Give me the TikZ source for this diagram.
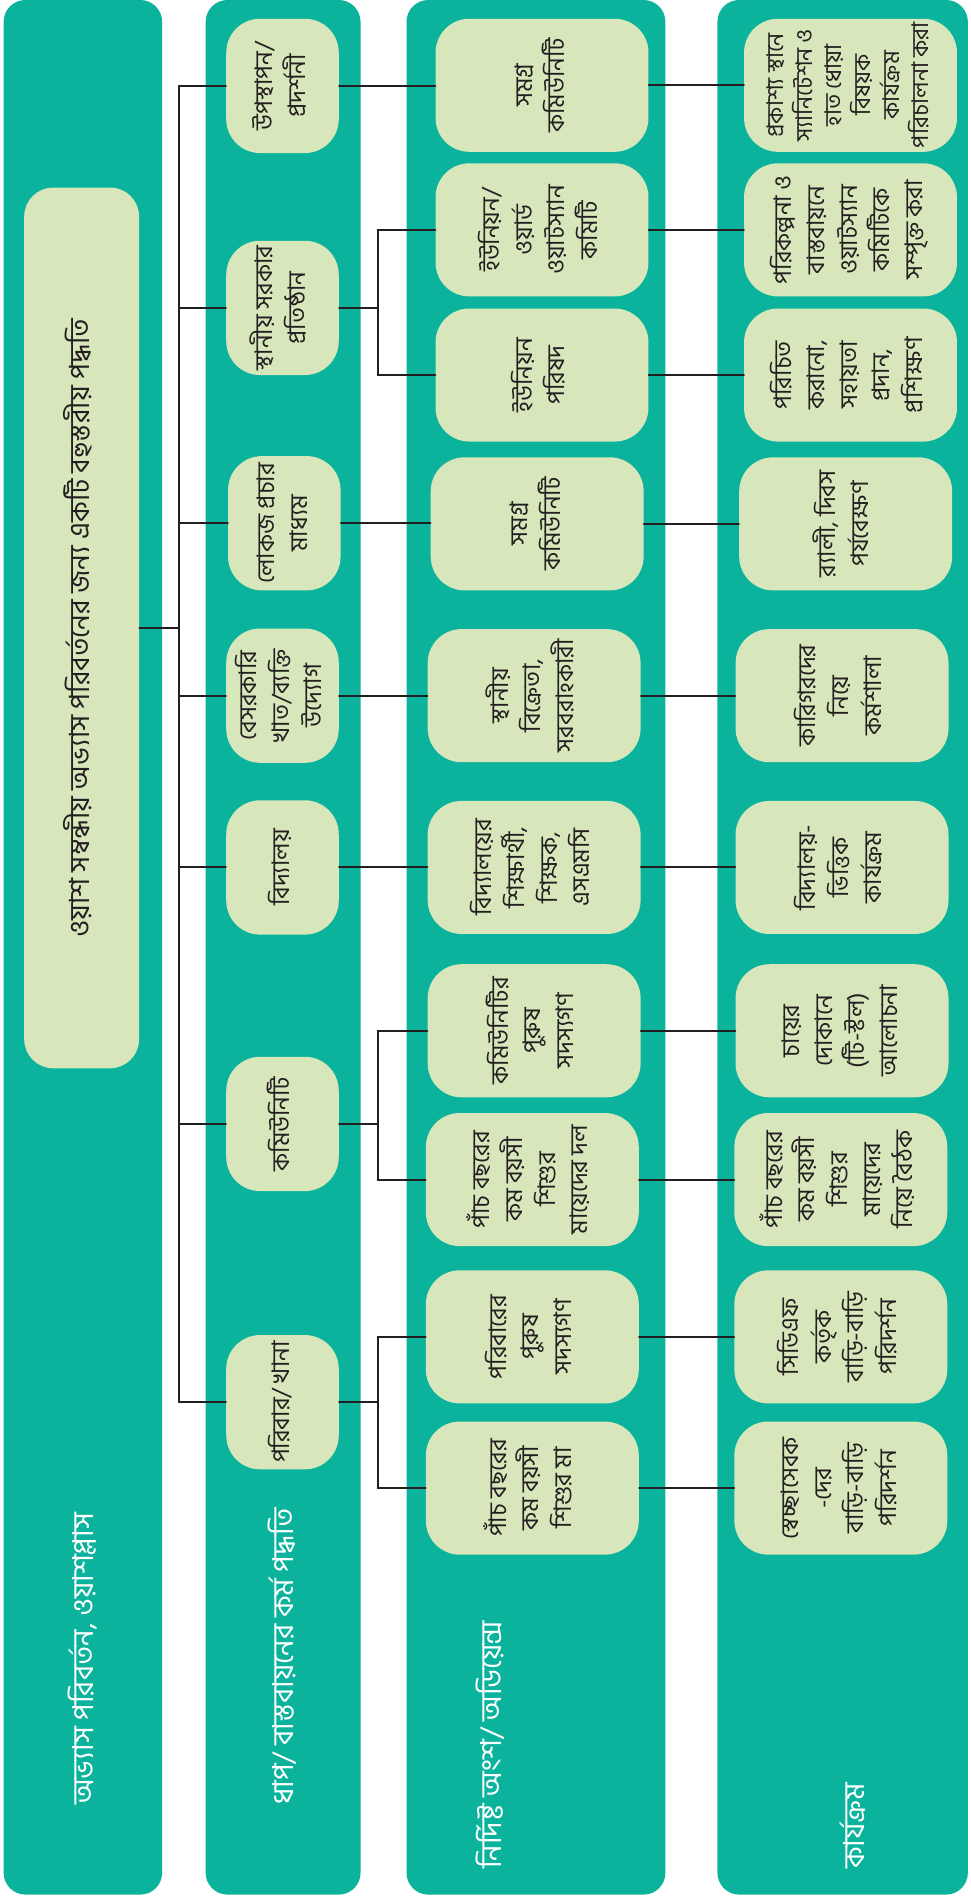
\documentclass[tikz,border=0pt]{standalone}
\usepackage{fontspec}
\usepackage{graphicx}
\newfontfamily\bn[Script=Bengali]{Hind Siliguri}
\definecolor{panelc}{HTML}{0BB39C}
\definecolor{boxc}{HTML}{D7E7BB}
\definecolor{inkc}{HTML}{231F20}
\newcommand\vtxt[1]{\rotatebox{90}{\begin{tabular}{@{}c@{}}#1\end{tabular}}}
\begin{document}
\begin{tikzpicture}[x=1pt,y=-1pt,line join=round,line cap=round,
	panel/.style={fill=panelc,rounded corners=18pt},
	cellbox/.style={fill=boxc,rounded corners=28pt,inner sep=0pt,text=inkc,font=\bn\fontsize{20}{27}\selectfont},
	stepbox/.style={cellbox,minimum width=93pt,minimum height=111pt},
	widebox/.style={cellbox,minimum width=176pt,minimum height=110pt},
	goalbox/.style={cellbox,rounded corners=24pt,minimum width=95pt,minimum height=728pt,font=\bn\fontsize{23}{27}\selectfont},
	head/.style={inner sep=0pt,anchor=south,text=white,font=\bn\fontsize{24}{27}\selectfont},
	link/.style={draw=inkc,line width=1.6pt}]
	\useasboundingbox (0,0) rectangle (802,1568);
	
	\fill[panel] (3,0) rectangle (134,1566);
	\fill[panel] (170,0) rectangle (298,1566);
	\fill[panel] (336,0) rectangle (550,1566);
	\fill[panel] (593,0) rectangle (800,1566);
	
	\node[head] (t1) at (68,1492) {\rotatebox{90}{অভ্যাস পরিবর্তন, ওয়াশপ্লাস}};
	\node[head] (t2) at (233,1492) {\rotatebox{90}{ধাপ/ বাস্তবায়নের কর্ম পদ্ধতি}};
	\node[head] (t3) at (405,1545) {\rotatebox{90}{নির্দিষ্ট অংশ/ অডিয়েন্স}};
	\node[head] (t4) at (705,1545) {\rotatebox{90}{কার্যক্রম}};
	
	\node[goalbox] (goal) at (67.5,519) {\vtxt{ওয়াশ সম্বন্ধীয় অভ্যাস পরিবর্তনের জন্য একটি বহুস্তরীয় পদ্ধতি}};
	
	\node[stepbox] (s1) at (233.5,71) {\vtxt{উপস্থাপন/\\প্রদর্শনী}};
	\node[stepbox] (s2) at (233.5,254.5) {\vtxt{স্থানীয় সরকার\\প্রতিষ্ঠান}};
	\node[stepbox] (s3) at (235,432.5) {\vtxt{লোকজ প্রচার\\মাধ্যম}};
	\node[stepbox] (s4) at (233.5,575) {\vtxt{বেসরকারি\\খাত/ব্যক্তি\\উদ্যোগ}};
	\node[stepbox] (s5) at (233.5,717) {\vtxt{বিদ্যালয়}};
	\node[stepbox] (s6) at (233.5,929) {\vtxt{কমিউনিটি}};
	\node[stepbox] (s7) at (233.5,1159) {\vtxt{পরিবার/ খানা}};
	
	\node[widebox] (a1) at (448,70.5) {\vtxt{সমগ্র\\কমিউনিটি}};
	\node[widebox] (a2) at (448,190) {\vtxt{ইউনিয়ন/\\ওয়ার্ড\\ওয়াটস্যান\\কমিটি}};
	\node[widebox] (a3) at (448,310) {\vtxt{ইউনিয়ন\\পরিষদ}};
	\node[widebox] (a4) at (444,433) {\vtxt{সমগ্র\\কমিউনিটি}};
	\node[widebox] (a5) at (441.5,575) {\vtxt{স্থানীয়\\বিক্রেতা,\\সরবরাহকারী}};
	\node[widebox] (a6) at (441.5,717) {\vtxt{বিদ্যালয়ের\\শিক্ষার্থী,\\শিক্ষক,\\এসএমসি}};
	\node[widebox] (a7) at (441.5,852) {\vtxt{কমিউনিটির\\পুরুষ\\সদস্যগণ}};
	\node[widebox] (a8) at (440,975) {\vtxt{পাঁচ বছরের\\কম বয়সী\\শিশুর\\মায়েদের দল}};
	\node[widebox] (a9) at (440,1105) {\vtxt{পরিবারের\\পুরুষ\\সদস্যগণ}};
	\node[widebox] (a10) at (440,1230) {\vtxt{পাঁচ বছরের\\কম বয়সী\\শিশুর মা}};
	
	\node[widebox,font=\bn\fontsize{19}{24}\selectfont] (k1) at (703,70.5) {\vtxt{প্রকাশ্য স্থানে\\স্যানিটেশন ও\\হাত ধোয়া\\বিষয়ক\\কার্যক্রম\\পরিচালনা করা}};
	\node[widebox] (k2) at (703,190) {\vtxt{পরিকল্পনা ও\\বাস্তবায়নে\\ওয়াটস্যান\\কমিটিকে\\সম্পৃক্ত করা}};
	\node[widebox] (k3) at (703,310) {\vtxt{পরিচিত\\করানো,\\সহায়তা\\প্রদান,\\প্রশিক্ষণ}};
	\node[widebox] (k4) at (699,433) {\vtxt{র‍্যালী, দিবস\\পর্যবেক্ষণ}};
	\node[widebox] (k5) at (696,575) {\vtxt{কারিগরদের\\নিয়ে\\কর্মশালা}};
	\node[widebox] (k6) at (696,717) {\vtxt{বিদ্যালয়-\\ভিত্তিক\\কার্যক্রম}};
	\node[widebox] (k7) at (696,852) {\vtxt{চায়ের\\দোকানে\\(টি-স্টল)\\আলোচনা}};
	\node[widebox] (k8) at (695,975) {\vtxt{পাঁচ বছরের\\কম বয়সী\\শিশুর\\মায়েদের\\নিয়ে বৈঠক}};
	\node[widebox] (k9) at (695,1105) {\vtxt{সিডিএফ\\কর্তৃক\\বাড়ি-বাড়ি\\পরিদর্শন}};
	\node[widebox] (k10) at (695,1230) {\vtxt{স্বেচ্ছাসেবক\\-দের\\বাড়ি-বাড়ি\\পরিদর্শন}};
	
	\coordinate (trunk) at (148,519);
	\draw[link] (goal.east) -- (trunk);
	\draw[link] (trunk |- s1.west) -- (trunk |- s7.west);
	\foreach \s in {s1,s2,s3,s4,s5,s6,s7}
		\draw[link] (trunk |- \s.west) -- (\s.west);
	
	\draw[link] (s1.east) -- (s1.east -| a1.west);
	\draw[link] (s3.east) -- (s3.east -| a4.west);
	\draw[link] (s4.east) -- (s4.east -| a5.west);
	\draw[link] (s5.east) -- (s5.east -| a6.west);
	\draw[link] (s2.east) -- ++(32,0) coordinate (f2);
	\draw[link] (f2 |- a2.west) -- (f2 |- a3.west);
	\draw[link] (f2 |- a2.west) -- (a2.west);
	\draw[link] (f2 |- a3.west) -- (a3.west);
	\draw[link] (s6.east) -- ++(32,0) coordinate (f6);
	\draw[link] (f6 |- a7.west) -- (f6 |- a8.west);
	\draw[link] (f6 |- a7.west) -- (a7.west);
	\draw[link] (f6 |- a8.west) -- (a8.west);
	\draw[link] (s7.east) -- ++(32,0) coordinate (f7);
	\draw[link] (f7 |- a9.west) -- (f7 |- a10.west);
	\draw[link] (f7 |- a9.west) -- (a9.west);
	\draw[link] (f7 |- a10.west) -- (a10.west);
	
	\foreach \i in {1,...,10}
		\draw[link] (a\i.east) -- (a\i.east -| k\i.west);
\end{tikzpicture}
\end{document}
